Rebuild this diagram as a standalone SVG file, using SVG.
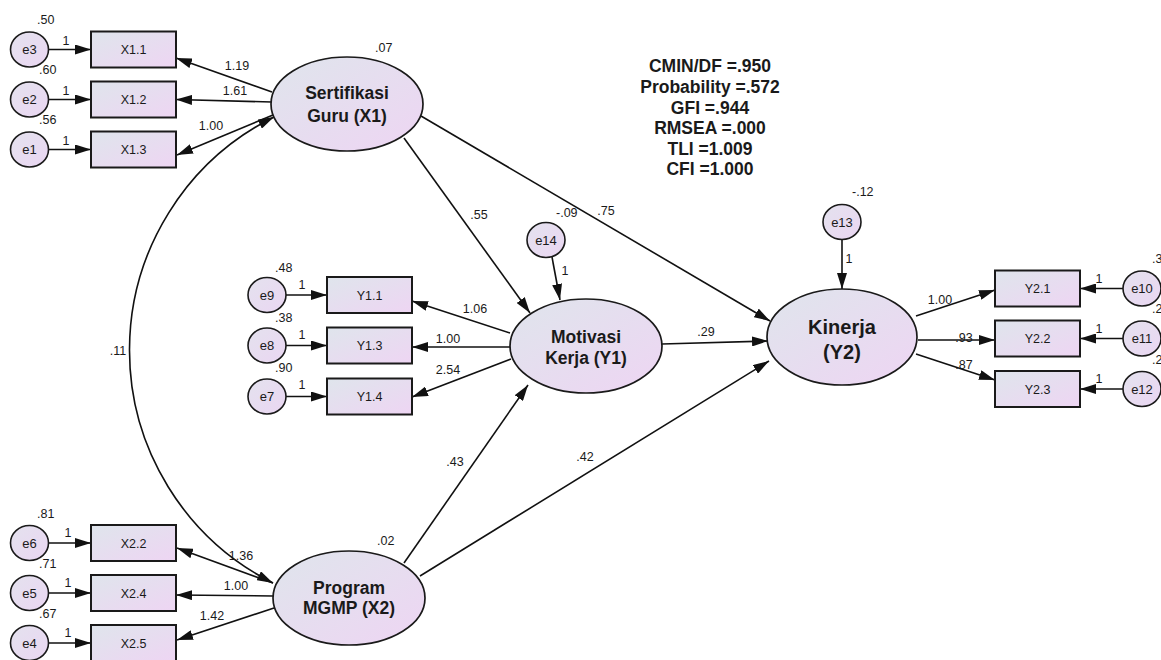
<svg xmlns="http://www.w3.org/2000/svg" width="1161" height="660" viewBox="0 0 1161 660">
<style>
.bg{fill:#ffffff}
.box{fill:url(#gbox);stroke:#1a1a1a;stroke-width:2}
.lat{fill:url(#gbox);stroke:#1a1a1a;stroke-width:1.7}
.err{fill:url(#gerr);stroke:#1a1a1a;stroke-width:1.6}
.ln{fill:none;stroke:#111;stroke-width:1.6}
.t{font-family:"Liberation Sans",Arial,sans-serif;fill:#1a1a1a}
.box-t{font-size:12.5px;text-anchor:middle}
.err-t{font-size:13px;text-anchor:middle}
.lat-t{font-size:17.5px;font-weight:bold;text-anchor:middle}
.big-t{font-size:20px;font-weight:bold;text-anchor:middle}
.lbl{font-size:12.5px}
.mid{text-anchor:middle}
.fit{font-size:17.5px;font-weight:bold;text-anchor:middle}
</style>
<defs>
<linearGradient id="gbox" x1="0" y1="0" x2="1" y2="1">
<stop offset="0" stop-color="#dfe5ec"/>
<stop offset="1" stop-color="#eed5f3"/>
</linearGradient>
<linearGradient id="gerr" x1="0" y1="0" x2="1" y2="1">
<stop offset="0" stop-color="#e4e2ee"/>
<stop offset="1" stop-color="#ead6f2"/>
</linearGradient>
<marker id="ah" viewBox="0 0 16 10" refX="16" refY="5" markerWidth="16" markerHeight="10" markerUnits="userSpaceOnUse" orient="auto">
<path d="M0,0 L16,5 L0,10 z" fill="#111"/>
</marker>
<marker id="ah2" viewBox="0 0 16 10" refX="16" refY="5" markerWidth="16" markerHeight="10" markerUnits="userSpaceOnUse" orient="auto-start-reverse">
<path d="M0,0 L16,5 L0,10 z" fill="#111"/>
</marker>
</defs>
<rect class="bg" x="0" y="0" width="1161" height="660"/>

<g id="connectors">
<path class="ln" marker-end="url(#ah)" d="M48.5,49.5 L91,49.5"/>
<path class="ln" marker-end="url(#ah)" d="M48.5,99.5 L91,99.5"/>
<path class="ln" marker-end="url(#ah)" d="M48.5,149.5 L91,149.5"/>
<path class="ln" marker-end="url(#ah)" d="M48.5,543 L91,543"/>
<path class="ln" marker-end="url(#ah)" d="M48.5,593 L91,593"/>
<path class="ln" marker-end="url(#ah)" d="M48.5,643 L91,643"/>
<path class="ln" marker-end="url(#ah)" d="M286,295 L327,295"/>
<path class="ln" marker-end="url(#ah)" d="M286,345.5 L327,345.5"/>
<path class="ln" marker-end="url(#ah)" d="M286,396.5 L327,396.5"/>
<path class="ln" marker-end="url(#ah)" d="M1123,288.5 L1080,288.5"/>
<path class="ln" marker-end="url(#ah)" d="M1123,338.5 L1080,338.5"/>
<path class="ln" marker-end="url(#ah)" d="M1123,389 L1080,389"/>
<path class="ln" marker-end="url(#ah)" d="M552,257 L560,300"/>
<path class="ln" marker-end="url(#ah)" d="M842,239.5 L842,289"/>
<path class="ln" marker-end="url(#ah)" d="M272,92 L176,58"/>
<path class="ln" marker-end="url(#ah)" d="M272,102 L176,99.5"/>
<path class="ln" marker-end="url(#ah)" d="M273,115 L177,155"/>
<path class="ln" marker-end="url(#ah)" d="M273,583 L177,548"/>
<path class="ln" marker-end="url(#ah)" d="M273,596 L176,595"/>
<path class="ln" marker-end="url(#ah)" d="M274,608 L177,640"/>
<path class="ln" marker-end="url(#ah)" d="M510,333 L412,301"/>
<path class="ln" marker-end="url(#ah)" d="M510,347 L412,347"/>
<path class="ln" marker-end="url(#ah)" d="M511,359 L412,397"/>
<path class="ln" marker-end="url(#ah)" d="M916,316 L995,290"/>
<path class="ln" marker-end="url(#ah)" d="M918,340 L995,340"/>
<path class="ln" marker-end="url(#ah)" d="M916,354 L995,380"/>
<path class="ln" marker-end="url(#ah)" d="M404,138 L530,313"/>
<path class="ln" marker-end="url(#ah)" d="M421,116 L770,321"/>
<path class="ln" marker-end="url(#ah)" d="M662,344 L768,341"/>
<path class="ln" marker-end="url(#ah)" d="M404,563 L528,385"/>
<path class="ln" marker-end="url(#ah)" d="M420,576 L769,361"/>
<path class="ln" marker-start="url(#ah2)" marker-end="url(#ah2)" d="M274,117 A260.5,260.5 0 0 0 273,583"/>
</g>

<g id="connector-labels" class="t lbl">
<text x="237" y="70" class="mid">1.19</text>
<text x="235" y="95" class="mid">1.61</text>
<text x="211" y="130" class="mid">1.00</text>
<text x="241" y="560" class="mid">1.36</text>
<text x="236" y="590" class="mid">1.00</text>
<text x="212" y="620" class="mid">1.42</text>
<text x="475" y="313" class="mid">1.06</text>
<text x="448" y="343" class="mid">1.00</text>
<text x="448" y="374" class="mid">2.54</text>
<text x="940" y="304" class="mid">1.00</text>
<text x="964" y="342" class="mid">.93</text>
<text x="964" y="369" class="mid">.87</text>
<text x="479" y="219" class="mid">.55</text>
<text x="606" y="215" class="mid">.75</text>
<text x="706" y="336" class="mid">.29</text>
<text x="455" y="466" class="mid">.43</text>
<text x="585" y="461" class="mid">.42</text>
<text x="118" y="355" class="mid">.11</text>
<text x="66" y="45" class="mid">1</text>
<text x="66" y="95" class="mid">1</text>
<text x="66" y="145" class="mid">1</text>
<text x="68" y="537" class="mid">1</text>
<text x="68" y="587" class="mid">1</text>
<text x="68" y="637" class="mid">1</text>
<text x="302" y="289" class="mid">1</text>
<text x="302" y="339" class="mid">1</text>
<text x="302" y="389" class="mid">1</text>
<text x="565" y="275" class="mid">1</text>
<text x="849" y="263" class="mid">1</text>
<text x="1099" y="283" class="mid">1</text>
<text x="1099" y="333" class="mid">1</text>
<text x="1099" y="383" class="mid">1</text>
</g>

<g id="fit-stats" class="t fit">
<text x="710" y="72">CMIN/DF =.950</text>
<text x="710" y="93">Probability =.572</text>
<text x="710" y="113.5">GFI =.944</text>
<text x="710" y="134">RMSEA =.000</text>
<text x="710" y="154.5">TLI =1.009</text>
<text x="710" y="175">CFI =1.000</text>
</g>

<g id="sertifikasi">
<ellipse class="lat" cx="347" cy="104" rx="76" ry="47"/>
<text class="t lat-t" x="347" y="99">Sertifikasi</text>
<text class="t lat-t" x="347" y="122">Guru (X1)</text>
<text class="t lbl" x="375" y="52">.07</text>
</g>
<g id="program">
<ellipse class="lat" cx="349" cy="598" rx="76" ry="47"/>
<text class="t lat-t" x="349" y="594">Program</text>
<text class="t lat-t" x="349" y="614">MGMP (X2)</text>
<text class="t lbl" x="377" y="545">.02</text>
</g>
<g id="motivasi">
<ellipse class="lat" cx="586" cy="346" rx="76" ry="47"/>
<text class="t lat-t" x="586" y="343">Motivasi</text>
<text class="t lat-t" x="586" y="364">Kerja (Y1)</text>
</g>
<g id="kinerja">
<ellipse class="lat" cx="842" cy="337" rx="75" ry="48"/>
<text class="t big-t" x="842" y="334">Kinerja</text>
<text class="t big-t" x="842" y="359">(Y2)</text>
</g>

<g id="X1.1"><rect class="box" x="91" y="31.5" width="85" height="36"/><text class="t box-t" x="133.5" y="54">X1.1</text></g>
<g id="X1.2"><rect class="box" x="91" y="81.5" width="85" height="36"/><text class="t box-t" x="133.5" y="104">X1.2</text></g>
<g id="X1.3"><rect class="box" x="91" y="131.5" width="85" height="36"/><text class="t box-t" x="133.5" y="154">X1.3</text></g>
<g id="X2.2"><rect class="box" x="91" y="525" width="85" height="36"/><text class="t box-t" x="133.5" y="547.5">X2.2</text></g>
<g id="X2.4"><rect class="box" x="91" y="575" width="85" height="36"/><text class="t box-t" x="133.5" y="597.5">X2.4</text></g>
<g id="X2.5"><rect class="box" x="91" y="625" width="85" height="36"/><text class="t box-t" x="133.5" y="647.5">X2.5</text></g>
<g id="Y1.1"><rect class="box" x="327" y="277" width="85" height="36"/><text class="t box-t" x="369.5" y="299.5">Y1.1</text></g>
<g id="Y1.3"><rect class="box" x="327" y="327.5" width="85" height="36"/><text class="t box-t" x="369.5" y="350">Y1.3</text></g>
<g id="Y1.4"><rect class="box" x="327" y="378.5" width="85" height="36"/><text class="t box-t" x="369.5" y="401">Y1.4</text></g>
<g id="Y2.1"><rect class="box" x="995" y="270.5" width="85" height="36"/><text class="t box-t" x="1037.5" y="293">Y2.1</text></g>
<g id="Y2.2"><rect class="box" x="995" y="320.5" width="85" height="36"/><text class="t box-t" x="1037.5" y="343">Y2.2</text></g>
<g id="Y2.3"><rect class="box" x="995" y="371" width="85" height="36"/><text class="t box-t" x="1037.5" y="393.5">Y2.3</text></g>

<g id="e3"><ellipse class="err" cx="29.5" cy="49.5" rx="19" ry="17.5"/><text class="t err-t" x="29.5" y="54">e3</text><text class="t lbl" x="37" y="24">.50</text></g>
<g id="e2"><ellipse class="err" cx="29.5" cy="99.5" rx="19" ry="17.5"/><text class="t err-t" x="29.5" y="104">e2</text><text class="t lbl" x="39" y="74">.60</text></g>
<g id="e1"><ellipse class="err" cx="29.5" cy="149.5" rx="19" ry="17.5"/><text class="t err-t" x="29.5" y="154">e1</text><text class="t lbl" x="39" y="124">.56</text></g>
<g id="e6"><ellipse class="err" cx="29.5" cy="543" rx="19" ry="17.5"/><text class="t err-t" x="29.5" y="547.5">e6</text><text class="t lbl" x="37" y="518">.81</text></g>
<g id="e5"><ellipse class="err" cx="29.5" cy="593" rx="19" ry="17.5"/><text class="t err-t" x="29.5" y="597.5">e5</text><text class="t lbl" x="39" y="568">.71</text></g>
<g id="e4"><ellipse class="err" cx="29.5" cy="643" rx="19" ry="17.5"/><text class="t err-t" x="29.5" y="647.5">e4</text><text class="t lbl" x="39" y="618">.67</text></g>
<g id="e9"><ellipse class="err" cx="267" cy="295" rx="19" ry="17.5"/><text class="t err-t" x="267" y="299.5">e9</text><text class="t lbl" x="275" y="272">.48</text></g>
<g id="e8"><ellipse class="err" cx="267" cy="345.5" rx="19" ry="17.5"/><text class="t err-t" x="267" y="350">e8</text><text class="t lbl" x="275" y="322">.38</text></g>
<g id="e7"><ellipse class="err" cx="267" cy="396.5" rx="19" ry="17.5"/><text class="t err-t" x="267" y="401">e7</text><text class="t lbl" x="275" y="372">.90</text></g>
<g id="e14"><ellipse class="err" cx="546" cy="240" rx="19" ry="17.5"/><text class="t err-t" x="546" y="244.5">e14</text><text class="t lbl" x="556" y="217">-.09</text></g>
<g id="e13"><ellipse class="err" cx="842" cy="222" rx="19" ry="17.5"/><text class="t err-t" x="842" y="226.5">e13</text><text class="t lbl" x="852" y="196">-.12</text></g>
<g id="e10"><ellipse class="err" cx="1142" cy="288.5" rx="19" ry="17.5"/><text class="t err-t" x="1142" y="293">e10</text><text class="t lbl" x="1152" y="263">.3</text></g>
<g id="e11"><ellipse class="err" cx="1142" cy="338.5" rx="19" ry="17.5"/><text class="t err-t" x="1142" y="343">e11</text><text class="t lbl" x="1152" y="313">.2</text></g>
<g id="e12"><ellipse class="err" cx="1142" cy="389" rx="19" ry="17.5"/><text class="t err-t" x="1142" y="393.5">e12</text><text class="t lbl" x="1152" y="364">.2</text></g>
</svg>
